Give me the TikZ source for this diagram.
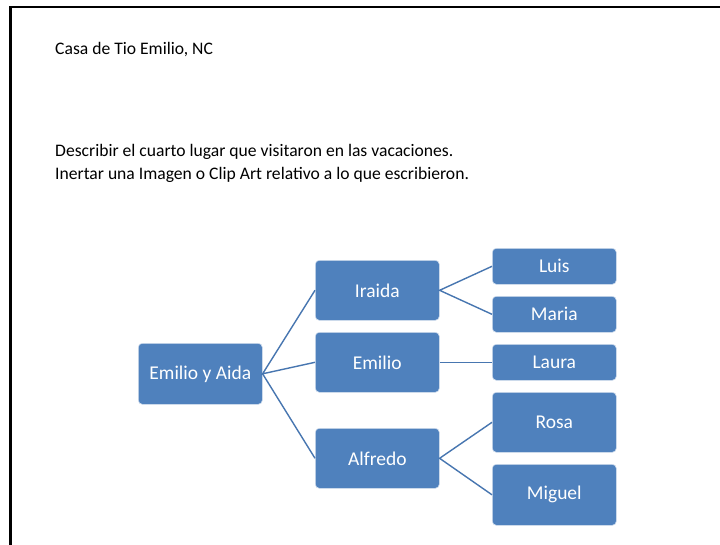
\documentclass[tikz,border=0pt]{standalone}
\usepackage{fontspec}
\setmainfont{Carlito}
\definecolor{boxblue}{HTML}{4F81BD}
\definecolor{lineblue}{HTML}{4776B0}
\begin{document}
\begin{tikzpicture}[x=1pt,y=-1pt,
  fam/.style={draw=white!75!boxblue, line width=0.6pt, fill=boxblue, rounded corners=4pt, text=white, font=\fontsize{19.5}{22}\selectfont, inner sep=0pt, anchor=north west},
  link/.style={draw=lineblue, line width=1.4pt},
  txt/.style={anchor=base west, inner sep=0pt, font=\fontsize{17.6}{20}\selectfont}]
\useasboundingbox (0,0) rectangle (720,544);
\fill[white] (0,0) rectangle (720,544);
\draw[line width=2.5pt, line cap=rect] (10.5,544) -- (10.5,7) -- (720,7);
\node[txt] (t1) at (55,54) {Casa de Tio Emilio, NC};
\node[txt] (t2) at (55,156) {Describir el cuarto lugar que visitaron en las vacaciones.};
\node[txt] (t3) at (55,179) {Inertar una Imagen o Clip Art relativo a lo que escribieron.};
\node[fam, minimum width=124pt, minimum height=61pt] (ea) at (138,343) {Emilio y Aida};
\node[fam, minimum width=124pt, minimum height=60pt] (ir) at (315,260) {Iraida};
\node[fam, minimum width=124pt, minimum height=60pt] (em) at (315,332) {Emilio};
\node[fam, minimum width=124pt, minimum height=60pt] (al) at (315,428) {Alfredo};
\node[fam, minimum width=124pt, minimum height=36pt] (lu) at (492,248) {Luis};
\node[fam, minimum width=124pt, minimum height=36pt] (ma) at (492,296) {Maria};
\node[fam, minimum width=124pt, minimum height=36pt] (la) at (492,344) {Laura};
\node[fam, minimum width=124pt, minimum height=60pt] (ro) at (492,392) {Rosa};
\node[fam, minimum width=124pt, minimum height=61pt] (mi) at (492,464) {Miguel};
\draw[link] (ir.west) -- (ea.east) -- (em.west);
\draw[link] (ea.east) -- (al.west);
\draw[link] (lu.west) -- (ir.east) -- (ma.west);
\draw[link] (em.east) -- (la.west);
\draw[link] (ro.west) -- (al.east) -- (mi.west);
\end{tikzpicture}
\end{document}
